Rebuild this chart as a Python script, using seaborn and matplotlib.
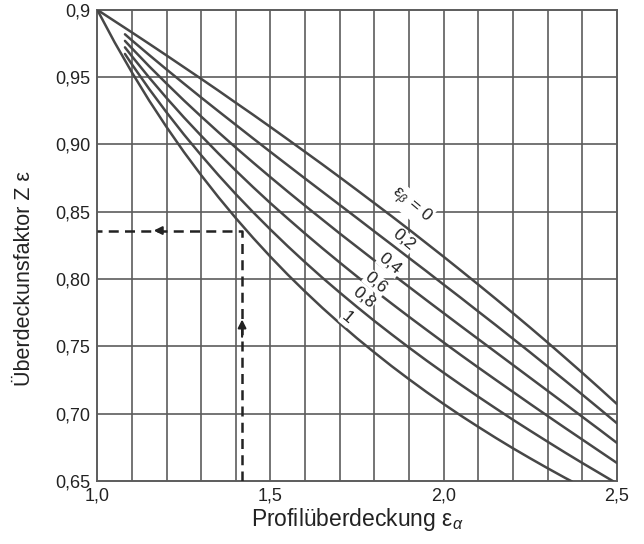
import numpy as np
import pandas as pd
import matplotlib
matplotlib.use('Agg')
import matplotlib.pyplot as plt
import seaborn as sns

# values (Z_eps over eps_alpha, one list per eps_beta)
eps_beta = ['0', '0,2', '0,4', '0,6', '0,8', '1']

x_full = [1.0, 1.05, 1.1, 1.15, 1.2, 1.25, 1.3, 1.35, 1.4, 1.45, 1.5, 1.55, 1.6, 1.65, 1.7, 1.75,
          1.8, 1.85, 1.9, 1.95, 2.0, 2.05, 2.1, 2.15, 2.2, 2.25, 2.3, 2.35, 2.4, 2.45, 2.5]
x_mid = [1.08, 1.1, 1.15, 1.2, 1.25, 1.3, 1.35, 1.4, 1.45, 1.5, 1.55, 1.6, 1.65, 1.7, 1.75,
         1.8, 1.85, 1.9, 1.95, 2.0, 2.05, 2.1, 2.15, 2.2, 2.25, 2.3, 2.35, 2.4, 2.45, 2.5]
x_08 = [1.08, 1.1, 1.15, 1.2, 1.25, 1.3, 1.35, 1.4, 1.45, 1.5, 1.55, 1.6, 1.65, 1.7, 1.75,
        1.8, 1.85, 1.9, 1.95, 2.0, 2.05, 2.1, 2.15, 2.2, 2.25, 2.3, 2.35, 2.4, 2.45, 2.49]
x_1 = [1.0, 1.05, 1.1, 1.15, 1.2, 1.25, 1.3, 1.35, 1.4, 1.45, 1.5, 1.55, 1.6, 1.65, 1.7, 1.75,
       1.8, 1.85, 1.9, 1.95, 2.0, 2.05, 2.1, 2.15, 2.2, 2.25, 2.3, 2.35, 2.37]

z_0 = [1.0, 0.9916, 0.9832, 0.9747, 0.9661, 0.9574, 0.9487, 0.9399, 0.9309, 0.9220, 0.9129,
       0.9037, 0.8944, 0.8851, 0.8756, 0.8660, 0.8563, 0.8466, 0.8367, 0.8266, 0.8165, 0.8062,
       0.7958, 0.7853, 0.7746, 0.7638, 0.7528, 0.7416, 0.7303, 0.7188, 0.7071]
z_02 = [0.9818, 0.9773, 0.9664, 0.9557, 0.9452, 0.9348, 0.9246, 0.9145, 0.9044, 0.8944, 0.8845,
        0.8746, 0.8648, 0.8550, 0.8452, 0.8353, 0.8255, 0.8156, 0.8058, 0.7958, 0.7859, 0.7758,
        0.7658, 0.7556, 0.7454, 0.7350, 0.7246, 0.7141, 0.7035, 0.6928]
z_04 = [0.9769, 0.9714, 0.9580, 0.9452, 0.9327, 0.9207, 0.9090, 0.8976, 0.8865, 0.8756, 0.8649,
        0.8544, 0.8441, 0.8338, 0.8238, 0.8138, 0.8039, 0.7941, 0.7843, 0.7746, 0.7649, 0.7553,
        0.7457, 0.7361, 0.7265, 0.7169, 0.7073, 0.6976, 0.6880, 0.6782]
z_06 = [0.9721, 0.9655, 0.9496, 0.9345, 0.9201, 0.9064, 0.8932, 0.8805, 0.8682, 0.8563, 0.8449,
        0.8337, 0.8228, 0.8122, 0.8018, 0.7916, 0.7817, 0.7719, 0.7623, 0.7528, 0.7434, 0.7342,
        0.7251, 0.7161, 0.7071, 0.6982, 0.6894, 0.6807, 0.6720, 0.6633]
z_08 = [0.9672, 0.9595, 0.9411, 0.9238, 0.9074, 0.8919, 0.8771, 0.8630, 0.8496, 0.8367, 0.8243,
        0.8124, 0.8009, 0.7899, 0.7792, 0.7688, 0.7588, 0.7490, 0.7395, 0.7303, 0.7213, 0.7125,
        0.7039, 0.6954, 0.6872, 0.6791, 0.6711, 0.6633, 0.6557, 0.6496]
z_1 = [1.0, 0.9759, 0.9535, 0.9325, 0.9129, 0.8944, 0.8771, 0.8607, 0.8452, 0.8305, 0.8165,
       0.8032, 0.7906, 0.7785, 0.7670, 0.7559, 0.7454, 0.7352, 0.7255, 0.7161, 0.7071, 0.6984,
       0.6901, 0.6820, 0.6742, 0.6667, 0.6594, 0.6523, 0.6496]

xs = [x_full, x_mid, x_mid, x_mid, x_08, x_1]
zs = [z_0, z_02, z_04, z_06, z_08, z_1]

# curve labels
label_text = ['ε$_\\beta$ = 0', '0,2', '0,4', '0,6', '0,8', '1']
label_x = [1.905, 1.885, 1.845, 1.805, 1.768, 1.722]
label_y = [0.855, 0.829, 0.811, 0.797, 0.786, 0.771]

# worked example read-off
ex_alpha = 1.418
ex_z = 0.836

rows = []
for b, xx, zz in zip(eps_beta, xs, zs):
    for a, z in zip(xx, zz):
        rows.append({'eps_alpha': a, 'Z': z, 'eps_beta': b})
df = pd.DataFrame(rows)

sns.set_style('white')
plt.rcParams['font.family'] = ['Liberation Sans', 'DejaVu Sans']
plt.rcParams['mathtext.fontset'] = 'custom'
plt.rcParams['mathtext.rm'] = 'Liberation Sans'
plt.rcParams['mathtext.it'] = 'Liberation Sans:italic'

line_col = '#474747'
grid_col = '#5c5c5c'
ink = '#222222'

fig = plt.figure(figsize=(6.44, 5.44), dpi=100)
ax = fig.add_axes([0.151, 0.116, 0.807, 0.866])

for v in np.arange(1.1, 2.45, 0.1):
    ax.axvline(v, color=grid_col, lw=1.2, zorder=1)
for h in np.arange(0.70, 0.99, 0.05):
    ax.axhline(h, color=grid_col, lw=1.2, zorder=1)

sns.lineplot(data=df, x='eps_alpha', y='Z', hue='eps_beta', units='eps_beta',
             estimator=None, sort=False, palette=[line_col] * 6, lw=1.8,
             legend=False, ax=ax, zorder=3, solid_joinstyle='round')

for t, lx, ly in zip(label_text, label_x, label_y):
    ax.text(lx, ly, t, fontsize=12.5, rotation=-40, ha='center', va='center',
            rotation_mode='anchor', zorder=4, color=ink,
            bbox=dict(boxstyle='square,pad=0.05', fc='white', ec='none'))

# dashed read-off lines with arrows
ax.plot([ex_alpha, ex_alpha, 1.0], [0.65, ex_z, ex_z], color=ink,
        lw=1.8, ls=(0, (4, 2.5)), zorder=4)
ax.annotate('', xy=(ex_alpha, 0.772), xytext=(ex_alpha, 0.755),
            arrowprops=dict(arrowstyle='-|>', color=ink, lw=1.5,
                            mutation_scale=12), zorder=5)
ax.annotate('', xy=(1.155, ex_z), xytext=(1.19, ex_z),
            arrowprops=dict(arrowstyle='-|>', color=ink, lw=1.5,
                            mutation_scale=12), zorder=5)

ax.set_xlim(1.0, 2.5)
ax.set_ylim(0.65, 1.0)
ax.set_xticks([1.0, 1.5, 2.0, 2.5])
ax.set_xticklabels(['1,0', '1,5', '2,0', '2,5'])
ax.set_yticks([0.65, 0.70, 0.75, 0.80, 0.85, 0.90, 0.95, 1.0])
ax.set_yticklabels(['0,65', '0,70', '0,75', '0,80', '0,85', '0,90', '0,95', '0,9'])
ax.tick_params(length=0, labelsize=13, colors=ink, pad=5)

ax.set_xlabel('Profilüberdeckung ε$_\\alpha$', fontsize=16.5, color=ink, labelpad=1)
ax.set_ylabel('Überdeckunsfaktor Z ε', fontsize=15.5, color=ink)
ax.yaxis.set_label_coords(-0.12, 0.43)

for s in ax.spines.values():
    s.set_color(grid_col)
    s.set_linewidth(1.4)

plt.savefig('out.png', dpi=100)
plt.close()
